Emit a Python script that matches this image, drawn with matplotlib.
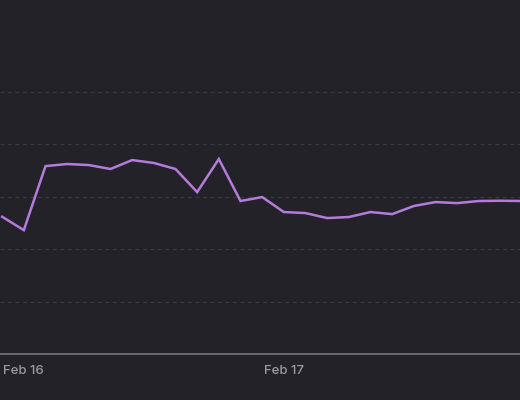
import matplotlib
matplotlib.use('Agg')
import matplotlib.pyplot as plt

# 2-hourly readings, hours relative to Feb 16 00:00
hours = [-2, 0, 2, 4, 6, 8, 10, 12, 14, 16, 18, 20, 22,
         24, 26, 28, 30, 32, 34, 36, 38, 40, 42, 44, 46]
values = [52.3, 47.2, 71.6, 72.4, 72.0, 70.5, 73.9, 72.8, 70.5, 61.7, 74.3, 58.3, 59.8,
          54.1, 53.7, 51.8, 52.2, 54.1, 53.3, 56.4, 57.9, 57.5, 58.3, 58.4, 58.3]
tick_hours = [0, 24]
tick_labels = ['Feb 16', 'Feb 17']
grid_values = [20, 40, 60, 80, 100]

bg = '#232228'
plt.rcParams['font.family'] = ['Inter', 'DejaVu Sans']

fig = plt.figure(figsize=(5.2, 4.0), dpi=100, facecolor=bg)
ax = fig.add_axes([0, 0.115, 1, 0.885], facecolor=bg)

for g in grid_values:
    ax.axhline(g, color='#3a3940', lw=0.9, ls=(0, (3, 3)), zorder=1)

ax.plot(hours, values, color='#b57bdc', lw=1.8, zorder=3, solid_joinstyle='miter')

ax.set_xlim(-2.2, 45.8)
ax.set_ylim(0, 134.9)

for s in ['top', 'right', 'left']:
    ax.spines[s].set_visible(False)
ax.spines['bottom'].set_color('#77767c')
ax.spines['bottom'].set_linewidth(1.2)

ax.set_yticks([])
ax.set_xticks(tick_hours)
ax.set_xticklabels(tick_labels, fontweight='medium')
ax.tick_params(axis='x', length=0, pad=8, labelsize=9.5, labelcolor='#9c9aa2')

fig.savefig('out.png', dpi=100, facecolor=bg)
